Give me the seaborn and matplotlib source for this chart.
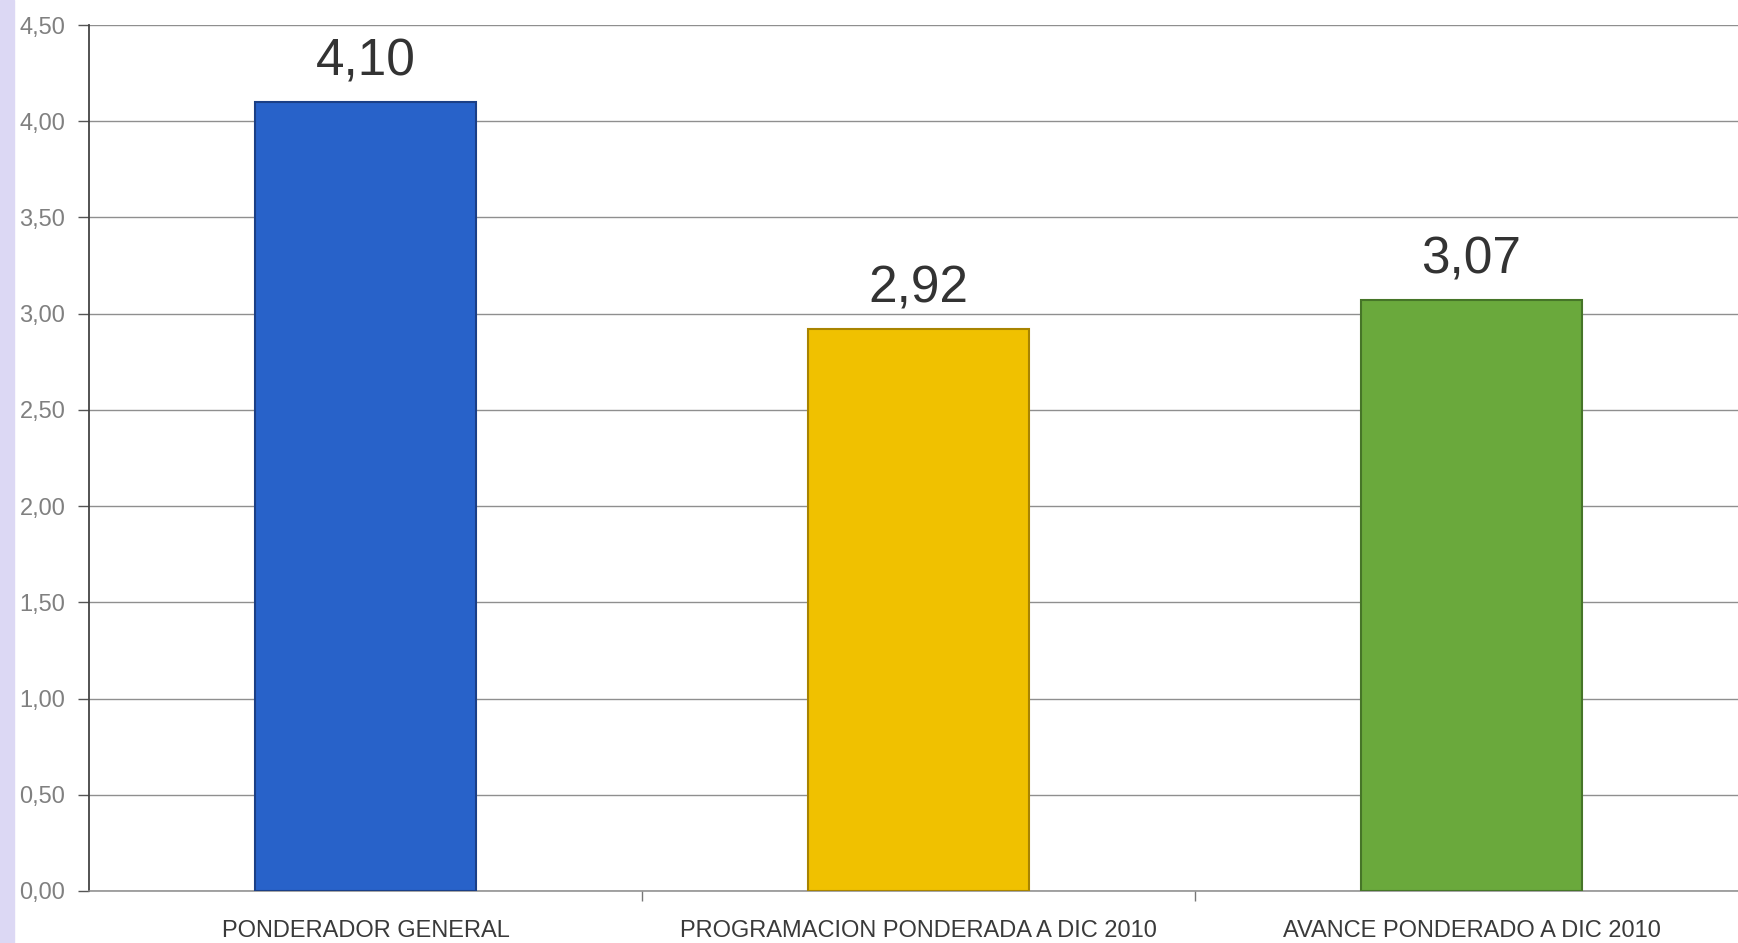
import matplotlib
matplotlib.use("Agg")
import matplotlib.pyplot as plt
import seaborn as sns
from matplotlib.patches import Rectangle
from matplotlib.ticker import FuncFormatter

# datos
categorias = ['PONDERADOR GENERAL', 'PROGRAMACION PONDERADA A DIC 2010', 'AVANCE PONDERADO A DIC 2010']
valores = [4.10, 2.92, 3.07]
colores = ['#2862c9', '#f0c100', '#6aa93c']
bordes = ['#1b3f86', '#a88400', '#467528']
yticks = [0.0, 0.5, 1.0, 1.5, 2.0, 2.5, 3.0, 3.5, 4.0, 4.5]

sns.set_style("white")
plt.rcParams['font.family'] = ['Liberation Sans', 'DejaVu Sans']

fig = plt.figure(figsize=(17.38, 9.43), dpi=100)
ax = fig.add_axes([89 / 1738, 52 / 943, 1659 / 1738, 866 / 943])

sns.barplot(x=categorias, y=valores, hue=categorias, palette=colores,
            saturation=1, legend=False, width=0.4, ax=ax, zorder=3)
for patch, ec in zip(ax.patches, bordes):
    patch.set_edgecolor(ec)
    patch.set_linewidth(1.5)

# etiquetas de valor
for i, v in enumerate(valores):
    ax.text(i, v + 0.08, f"{v:.2f}".replace('.', ','), ha='center', va='bottom',
            fontsize=37, color='#333333', zorder=4)

ax.set_ylim(0, 4.5)
ax.set_xlim(-0.5, 2.5)
ax.set_yticks(yticks)
ax.yaxis.set_major_formatter(FuncFormatter(lambda v, p: f"{v:.2f}".replace('.', ',')))
ax.grid(axis='y', color='#8f8f8f', linewidth=1.0, zorder=0)
ax.set_axisbelow(True)

ax.tick_params(axis='y', which='major', direction='out', length=8, width=1,
               color='#555555', labelsize=17, labelcolor='#808080', left=True, pad=9)
ax.tick_params(axis='x', which='major', length=0, labelsize=17,
               labelcolor='#3a3a3a', pad=21)
ax.set_xticks([0.5, 1.5], minor=True)
ax.tick_params(axis='x', which='minor', direction='out', length=7, width=1,
               color='#777777', bottom=True)

for s in ['top', 'right']:
    ax.spines[s].set_visible(False)
ax.spines['left'].set_color('#444444')
ax.spines['left'].set_linewidth(1.3)
ax.spines['bottom'].set_color('#8a8a8a')
ax.spines['bottom'].set_linewidth(1.1)
ax.set_xlabel('')
ax.set_ylabel('')

# franja lila del escaneo a la izquierda
fig.patches.append(Rectangle((0, 0), 14 / 1738, 1, transform=fig.transFigure,
                             color='#dcd8f4', zorder=0))

fig.savefig('out.png', dpi=100)
